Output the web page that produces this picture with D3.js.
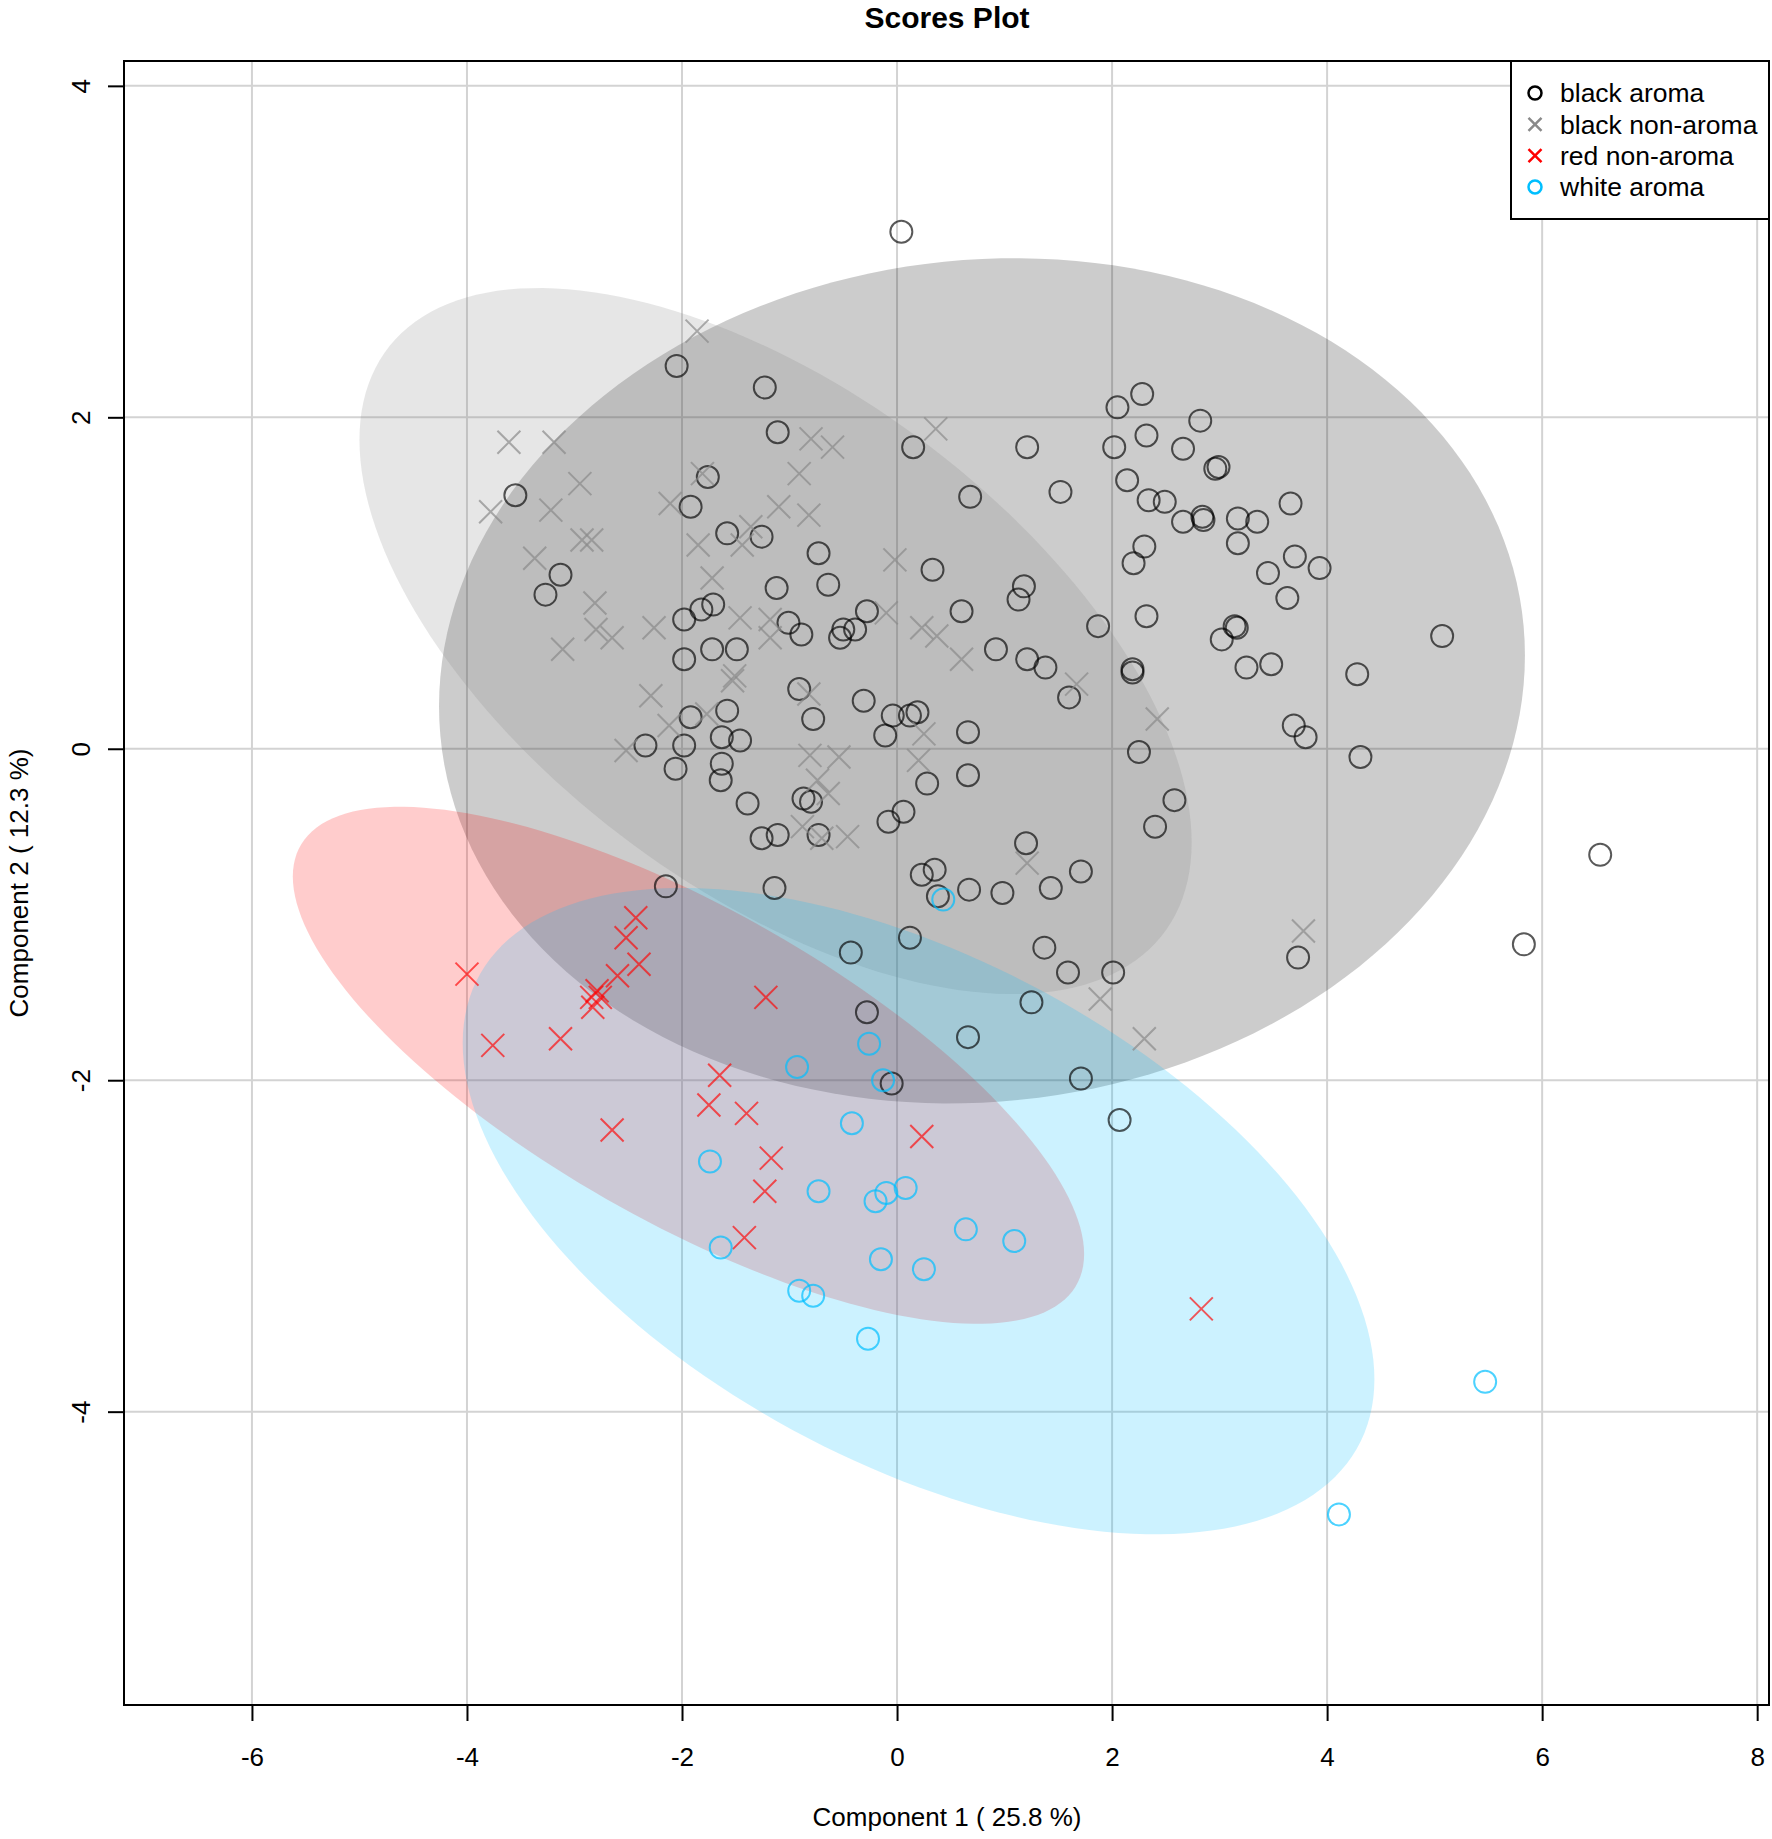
<!DOCTYPE html>
<html>
<head>
<meta charset="utf-8">
<script src="https://cdn.jsdelivr.net/npm/d3@7"></script>
<style>
	body { margin: 0; background: #fff; }
	text { font-family: "Liberation Sans", Arial, sans-serif; }
</style>
</head>
<body>
<svg id="chart"></svg>
<script>
var groups = ["black aroma", "black non-aroma", "red non-aroma", "white aroma"]
var xTicks = [-6, -4, -2, 0, 2, 4, 6, 8]
var yTicks = [-4, -2, 0, 2, 4]

var blackAromaX = [0.04, -2.05, -1.23, -1.11, 0.15, 1.21, 2.05, 2.28, 2.82, 2.02, 2.32, 2.66, 2.96, 2.99,
	-3.55, -1.76, -1.92, 0.68, 1.52, 2.14, 2.34, 2.49, 2.66, 2.84, 2.85, 3.17, 3.35, 3.66, 3.17, 2.30,
	2.20, 3.70, 3.45, 3.93, 3.63, -1.58, -1.26, -0.73, 0.33, -3.13, -3.27, -1.12, -0.64, 1.18, 1.13,
	0.60, 2.32, 1.87, 3.14, 3.16, 3.02, 5.07, -1.98, -1.82, -1.71, -1.01, -0.89, -0.53, -0.50, -0.39,
	-0.28, -1.98, -1.72, -1.49, 0.92, 1.21, 1.38, 1.60, 2.19, 2.19, 3.25, 3.48, 4.28, -0.91, -0.31,
	-0.78, -0.04, 0.12, 0.19, -1.92, -1.58, -1.63, -1.46, -1.98, -2.34, -0.11, 0.66, 3.69, 3.80, 2.25,
	4.31, -2.06, -1.63, -1.64, 0.66, 0.28, -1.39, -0.87, -0.80, 0.06, -0.08, 2.58, 2.40, -1.26, -1.11,
	-0.73, 1.20, 0.23, 0.35, 0.67, 0.98, 1.43, 1.71, -1.14, -2.15, 6.54, 5.83, 3.73, -0.43, 0.12,
	1.37, 1.59, 2.01, 1.25, -0.28, 0.66, 1.71, -0.05, 2.07, 0.38]
var blackAromaY = [3.12, 2.31, 2.18, 1.91, 1.82, 1.82, 2.06, 2.14, 1.98, 1.82, 1.89, 1.81, 1.69, 1.70,
	1.53, 1.64, 1.46, 1.52, 1.55, 1.62, 1.50, 1.49, 1.37, 1.40, 1.38, 1.39, 1.37, 1.48, 1.24, 1.22,
	1.12, 1.16, 1.06, 1.09, 0.91, 1.30, 1.28, 1.18, 1.08, 1.05, 0.93, 0.97, 0.99, 0.98, 0.90,
	0.83, 0.80, 0.74, 0.74, 0.73, 0.66, 0.68, 0.78, 0.84, 0.87, 0.76, 0.69, 0.67, 0.72, 0.72,
	0.83, 0.54, 0.60, 0.60, 0.60, 0.54, 0.49, 0.31, 0.48, 0.46, 0.49, 0.51, 0.45, 0.36, 0.29,
	0.18, 0.20, 0.20, 0.22, 0.19, 0.23, 0.07, 0.05, 0.02, 0.02, 0.08, 0.10, 0.14, 0.07, -0.02,
	-0.05, -0.12, -0.09, -0.19, -0.16, -0.21, -0.33, -0.30, -0.32, -0.38, -0.44, -0.31, -0.47, -0.54, -0.52,
	-0.52, -0.57, -0.76, -0.73, -0.85, -0.87, -0.84, -0.74, -0.84, -0.83, -0.64, -1.18, -1.26, -1.23, -1.14,
	-1.20, -1.35, -1.35, -1.53, -1.59, -1.74, -1.99, -2.02, -2.24, -0.89]

var blackNonAromaX = [-1.86, -3.61, -3.19, -0.80, -0.60, 0.36, -2.95, -3.78, -3.22, -2.11, -1.81, -0.91,
	-1.10, -0.82, -1.36, -2.93, -2.84, -3.37, -1.85, -1.44, -1.72, -0.02, -2.81, -2.80, -2.65, -3.11,
	-2.26, -1.46, -1.18, -1.18, -0.10, 0.23, 0.37, 0.60, -1.53, -1.51, -2.29, -2.12, -1.77, -0.82,
	0.25, -2.52, -0.81, -0.54, -0.74, -0.64, -0.88, -0.70, -0.46, 0.20, 1.21, 1.67, 2.42, 1.89, 2.30, 3.78]
var blackNonAromaY = [2.52, 1.85, 1.85, 1.87, 1.82, 1.93, 1.60, 1.43, 1.44, 1.48, 1.66, 1.66,
	1.46, 1.41, 1.34, 1.26, 1.26, 1.15, 1.23, 1.23, 1.03, 1.14, 0.88, 0.72, 0.67, 0.60,
	0.73, 0.79, 0.78, 0.67, 0.82, 0.73, 0.68, 0.54, 0.41, 0.44, 0.32, 0.14, 0.21, 0.33,
	0.09, -0.01, -0.04, -0.05, -0.19, -0.27, -0.47, -0.54, -0.53, -0.07, -0.69, 0.39, 0.18, -1.51, -1.75, -1.10]

var redNonAromaX = [-4.00, -2.43, -2.52, -2.40, -2.60, -2.79, -2.76, -2.84, -2.83, -3.76, -3.13, -1.22,
	-1.65, -1.75, -1.40, -2.65, -1.17, -1.23, 0.23, -1.42, 2.83]
var redNonAromaY = [-1.36, -1.02, -1.14, -1.30, -1.37, -1.46, -1.50, -1.50, -1.56, -1.79, -1.75, -1.50,
	-1.97, -2.15, -2.20, -2.30, -2.47, -2.67, -2.34, -2.95, -3.38]

var whiteAromaX = [0.43, -0.26, -0.93, -0.13, -0.42, -1.74, -0.73, -0.20, -0.10, 0.08, 0.64, 1.09,
	-1.64, -0.15, 0.25, -0.91, -0.78, -0.27, 5.47, 4.11]
var whiteAromaY = [-0.91, -1.78, -1.92, -2.00, -2.26, -2.49, -2.67, -2.73, -2.68, -2.65, -2.90, -2.97,
	-3.01, -3.08, -3.14, -3.27, -3.30, -3.56, -3.82, -4.62]

// confidence ellipses, one per group: centre, half extents along x / y, correlation
var ellipseCx = [0.79, -1.13, -1.94, 0.20]
var ellipseCy = [0.41, 0.65, -1.91, -2.79]
var ellipseHx = [5.05, 3.87, 3.68, 4.24]
var ellipseHy = [2.55, 2.13, 1.56, 1.95]
var ellipseRho = [0.06, -0.57, -0.73, -0.52]

var style = {
	"black aroma": {shape: "circle", color: "#000000", fill: "#000000", opacity: 0.65},
	"black non-aroma": {shape: "cross", color: "#8a8a8a", fill: "#808080", opacity: 0.7},
	"red non-aroma": {shape: "cross", color: "#ff0000", fill: "#ff0000", opacity: 0.65},
	"white aroma": {shape: "circle", color: "#00bfff", fill: "#00bfff", opacity: 0.7}
}

buildScores()

function buildScores() {
	var dim = {
		width: 1645,
		height: 1644,
		margin: {top: 61, left: 124}
	}

	var svg = d3.select('#chart')
		.attr('width', 1772)
		.attr('height', 1839)

	svg.append('rect')
		.attr('width', 1772).attr('height', 1839).attr('fill', '#fff')

	var x = d3.scaleLinear()
		.domain([-7.19, 8.11])
		.range([dim.margin.left, dim.margin.left + dim.width])
	var y = d3.scaleLinear()
		.domain([-5.77, 4.15])
		.range([dim.margin.top + dim.height, dim.margin.top])

	// grid
	svg.append('g').selectAll('line')
		.data(xTicks)
		.enter().append('line')
			.attr('x1', d => x(d)).attr('x2', d => x(d))
			.attr('y1', y.range()[1]).attr('y2', y.range()[0])
			.attr('stroke', '#d3d3d3').attr('stroke-width', 2)
	svg.append('g').selectAll('line')
		.data(yTicks)
		.enter().append('line')
			.attr('y1', d => y(d)).attr('y2', d => y(d))
			.attr('x1', x.range()[0]).attr('x2', x.range()[1])
			.attr('stroke', '#d3d3d3').attr('stroke-width', 2)

	// ellipses
	var line = d3.line()
		.x(d => x(d[0]))
		.y(d => y(d[1]))
		.curve(d3.curveLinearClosed)
	var ellipses = groups.map((g, i) => {
		var pts = d3.range(0, 360, 2).map(a => {
			var t = a * Math.PI / 180
			return [ellipseCx[i] + ellipseHx[i] * Math.cos(t),
				ellipseCy[i] + ellipseHy[i] * (ellipseRho[i] * Math.cos(t) + Math.sqrt(1 - ellipseRho[i] * ellipseRho[i]) * Math.sin(t))]
		})
		return {group: g, pts: pts}
	})
	svg.append('g').selectAll('path')
		.data(ellipses)
		.enter().append('path')
			.attr('d', d => line(d.pts))
			.attr('fill', d => style[d.group].fill)
			.attr('fill-opacity', 0.2)
			.attr('stroke', 'none')

	// points
	var series = [
		[blackAromaX, blackAromaY],
		[blackNonAromaX, blackNonAromaY],
		[redNonAromaX, redNonAromaY],
		[whiteAromaX, whiteAromaY]
	]
	var crossPath = s => 'M' + (-s) + ',' + (-s) + 'L' + s + ',' + s + 'M' + (-s) + ',' + s + 'L' + s + ',' + (-s)

	groups.forEach((g, i) => {
		var pts = series[i][0].map((v, j) => ({x: v, y: series[i][1][j]}))
		var st = style[g]
		var layer = svg.append('g')
		if (st.shape == 'circle') {
			layer.selectAll('circle')
				.data(pts)
				.enter().append('circle')
					.attr('cx', d => x(d.x))
					.attr('cy', d => y(d.y))
					.attr('r', 11)
					.attr('fill', 'none')
					.attr('stroke', st.color)
					.attr('stroke-opacity', st.opacity)
					.attr('stroke-width', 2)
		} else {
			layer.selectAll('path')
				.data(pts)
				.enter().append('path')
					.attr('transform', d => 'translate(' + x(d.x) + ',' + y(d.y) + ')')
					.attr('d', crossPath(11.5))
					.attr('fill', 'none')
					.attr('stroke', st.color)
					.attr('stroke-opacity', st.opacity)
					.attr('stroke-width', 2)
		}
	})

	// axes (plain hyphen for negatives, like the original)
	var fmt = d => String(d)
	var xAxis = svg.append('g')
		.attr('transform', 'translate(0,' + y.range()[0] + ')')
		.call(d3.axisBottom(x).tickValues(xTicks).tickSize(16).tickPadding(27).tickFormat(fmt))
	var yAxis = svg.append('g')
		.attr('transform', 'translate(' + x.range()[0] + ',0)')
		.call(d3.axisLeft(y).tickValues(yTicks).tickSize(16).tickFormat(fmt))
	yAxis.selectAll('text')
		.attr('x', null).attr('dy', null)
		.attr('text-anchor', 'middle')
		.attr('transform', 'translate(-34,0) rotate(-90)')
	;[xAxis, yAxis].forEach(a => {
		a.select('.domain').remove()
		a.selectAll('line').attr('stroke', '#000').attr('stroke-width', 2)
		a.selectAll('text').attr('fill', '#000').style('font-size', '26px')
			.style('font-family', '"Liberation Sans", Arial, sans-serif')
	})

	// box
	svg.append('rect')
		.attr('x', x.range()[0]).attr('y', y.range()[1])
		.attr('width', dim.width).attr('height', dim.height)
		.attr('fill', 'none').attr('stroke', '#000').attr('stroke-width', 2)

	// titles
	svg.append('text')
		.attr('x', 947).attr('y', 28)
		.attr('text-anchor', 'middle')
		.style('font-size', '30px').style('font-weight', 'bold')
		.text('Scores Plot')
	svg.append('text')
		.attr('x', 947).attr('y', 1826)
		.attr('text-anchor', 'middle')
		.style('font-size', '26px')
		.text('Component 1 ( 25.8 %)')
	svg.append('text')
		.attr('transform', 'translate(28,' + (dim.margin.top + dim.height / 2) + ') rotate(-90)')
		.attr('text-anchor', 'middle')
		.style('font-size', '26px')
		.text('Component 2 ( 12.3 %)')

	// legend
	var legend = svg.append('g')
	legend.append('rect')
		.attr('x', 1511).attr('y', 61).attr('width', 258).attr('height', 158)
		.attr('fill', '#fff').attr('stroke', '#000').attr('stroke-width', 2)
	var rows = legend.selectAll('g.row')
		.data(groups)
		.enter().append('g')
			.attr('class', 'row')
			.attr('transform', (d, i) => 'translate(1535,' + (93 + i * 31.3) + ')')
	rows.each(function(d) {
		var st = style[d]
		var g = d3.select(this)
		if (st.shape == 'circle') {
			g.append('circle').attr('r', 6.5).attr('fill', 'none')
				.attr('stroke', st.color).attr('stroke-width', 2.5)
		} else {
			g.append('path').attr('d', crossPath(6.5)).attr('fill', 'none')
				.attr('stroke', st.color).attr('stroke-width', 2.5)
		}
	})
	rows.append('text')
		.attr('x', 25).attr('dy', '0.35em')
		.style('font-size', '26.5px')
		.text(d => d)
}
</script>
</body>
</html>
